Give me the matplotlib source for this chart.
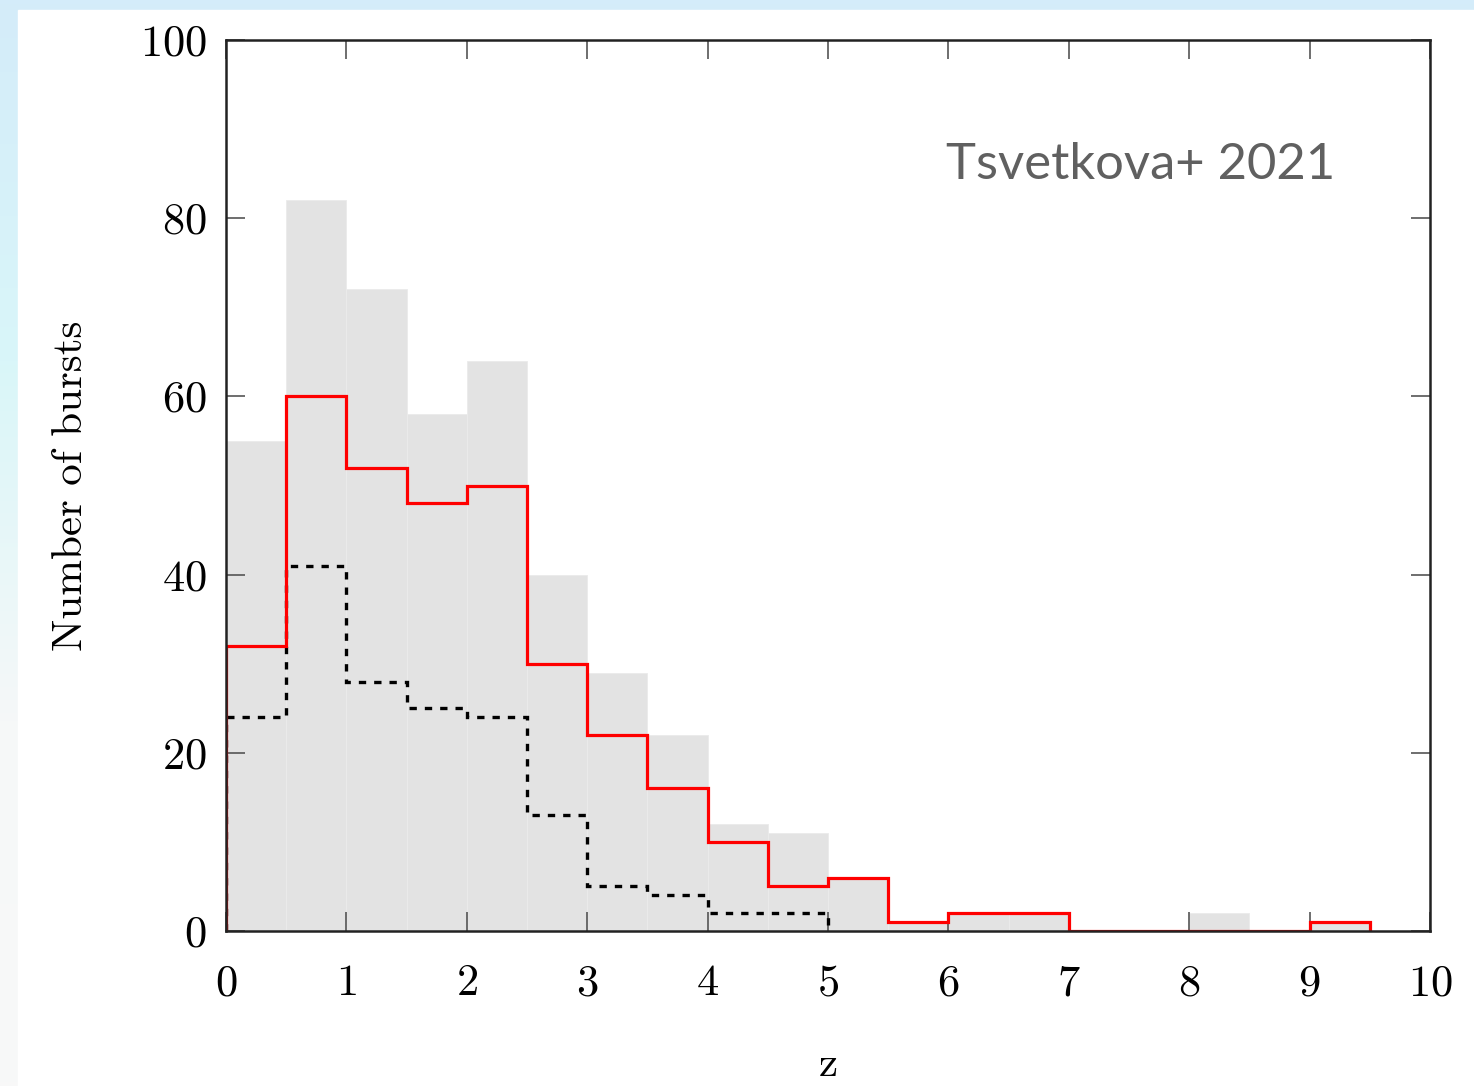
"""Redshift distribution of bursts (Tsvetkova+ 2021) with step overlays."""

import matplotlib

matplotlib.use("Agg")
import matplotlib.pyplot as plt  # noqa: E402
import numpy as np  # noqa: E402
from matplotlib.colors import LinearSegmentedColormap  # noqa: E402
from matplotlib.patches import Rectangle  # noqa: E402

# bin edges in z (width 0.5)
edges_all = [0, 0.5, 1, 1.5, 2, 2.5, 3, 3.5, 4, 4.5, 5, 5.5, 6, 6.5, 7, 7.5, 8, 8.5, 9, 9.5, 10]
counts_all = [55, 82, 72, 58, 64, 40, 29, 22, 12, 11, 6, 1, 2, 2, 0, 0, 2, 0, 1, 0]

edges_red = [0, 0.5, 1, 1.5, 2, 2.5, 3, 3.5, 4, 4.5, 5, 5.5, 6, 6.5, 7, 7.5, 8, 8.5, 9, 9.5]
counts_red = [32, 60, 52, 48, 50, 30, 22, 16, 10, 5, 6, 1, 2, 2, 0, 0, 0, 0, 1]

edges_dot = [0, 0.5, 1, 1.5, 2, 2.5, 3, 3.5, 4, 4.5, 5]
counts_dot = [24, 41, 28, 25, 24, 13, 5, 4, 2, 2]

xticks = list(range(0, 11))
yticks = [0, 20, 40, 60, 80, 100]

plt.rcParams["font.family"] = "serif"
plt.rcParams["font.serif"] = ["cmr10", "DejaVu Serif"]
plt.rcParams["axes.formatter.use_mathtext"] = True

fig = plt.figure(figsize=(14.74, 10.86), dpi=100)

# light blue slide background behind a white panel
bg = fig.add_axes([0, 0, 1, 1], zorder=-10)
cmap = LinearSegmentedColormap.from_list("bg", ["#d4ecfa", "#d9f6f9", "#f6f8f8", "#f8f8f8"])
bg.imshow(np.linspace(0, 1, 256).reshape(-1, 1), aspect="auto", cmap=cmap,
          extent=[0, 1, 0, 1], origin="upper")
bg.add_patch(Rectangle((18 / 1474, 0), 1, 1 - 10 / 1086, color="white"))
bg.set_xlim(0, 1)
bg.set_ylim(0, 1)
bg.axis("off")

ax = fig.add_axes([226 / 1474, 1 - 931 / 1086, (1430 - 226) / 1474, (931 - 40) / 1086])
ax.set_facecolor("none")

ax.bar(edges_all[:-1], counts_all, width=np.diff(edges_all), align="edge",
       color="#e3e3e3", edgecolor="#ebebeb", linewidth=0.6, zorder=1)
ax.stairs(counts_red, edges_red, baseline=0, color="#ff0000", linewidth=2.3, zorder=2.4)
ax.stairs(counts_dot, edges_dot, baseline=0, color="black", linewidth=2.4,
          linestyle=(0, (2.2, 2.4)), zorder=2.3)

ax.set_xlim(0, 10)
ax.set_ylim(0, 100)
ax.set_xticks(xticks)
ax.set_yticks(yticks)
ax.tick_params(direction="in", length=14, width=1.2, color="#555555",
               top=True, right=True, labelsize=32)
ax.tick_params(axis="x", pad=24)
ax.tick_params(axis="y", pad=14)
for s in ax.spines.values():
    s.set_linewidth(1.8)
    s.set_color("#222222")
    s.set_zorder(2.5)

ax.set_xlabel("z", fontsize=31, labelpad=30)
ax.set_ylabel("Number of bursts", fontsize=31, labelpad=36)

ax.text(0.921, 0.86, "Tsvetkova+ 2021", transform=ax.transAxes, ha="right", va="center",
        fontsize=36.5, color="#606060", family="Lato")

fig.savefig("out.png", dpi=100)
